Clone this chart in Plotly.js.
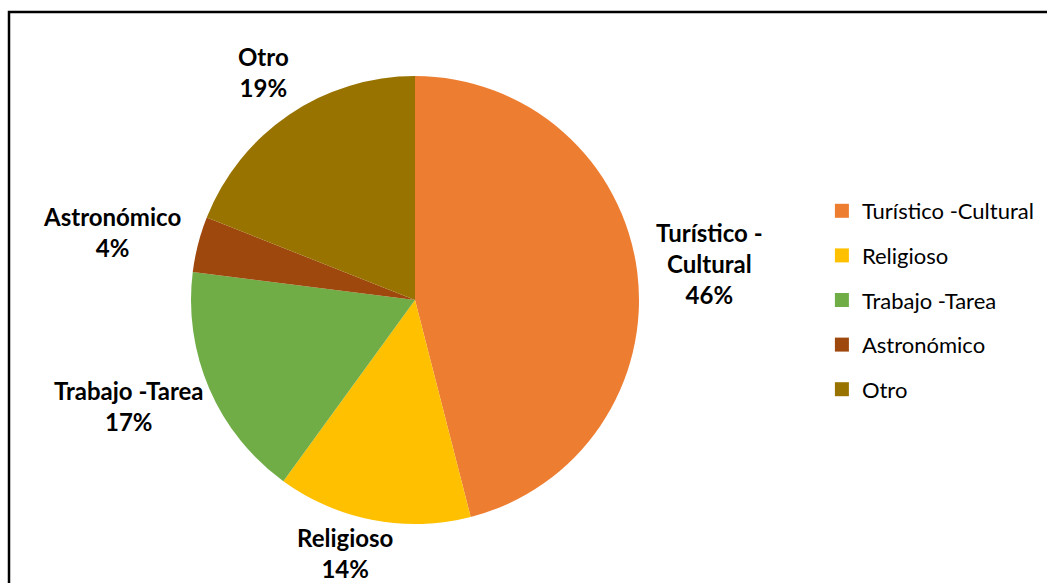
<!DOCTYPE html>
<html>
<head>
<meta charset="utf-8">
<script src="https://cdn.plot.ly/plotly-3.0.1.min.js"></script>
<style>html,body{margin:0;padding:0;background:#fff;overflow:hidden}#chart{width:1047px;height:583px}</style>
</head>
<body>
<div id="chart"></div>
<script>
// ---- data ----
const categories = ['Turístico -Cultural', 'Religioso', 'Trabajo -Tarea', 'Astronómico', 'Otro'];
const sliceLabels = ['Turístico -<br>Cultural', 'Religioso', 'Trabajo -Tarea', 'Astronómico', 'Otro'];
const values = [46, 14, 17, 4, 19];
const sliceColors = ['#ED7D31', '#FFC000', '#70AD47', '#9E480E', '#997300'];

// ---- layout geometry ----
const W = 1047, H = 583;
const cx = 415, cy = 300, R = 224;
const labelFont = 'Lato';
const labelSize = 24;

const total = values.reduce((a, b) => a + b, 0);

const ctx = document.createElement('canvas').getContext('2d');
ctx.font = 'bold ' + labelSize + 'px ' + labelFont;

const annotations = [];
let cum = 0;
values.forEach((v, i) => {
  const pct = Math.round(v / total * 100);
  const text = sliceLabels[i] + '<br>' + pct + '%';
  const lines = text.split('<br>');
  const w = Math.max(...lines.map(l => ctx.measureText(l).width));
  const h = lines.length * labelSize * 1.3;
  const theta = 2 * Math.PI * (cum + v / 2) / total;
  cum += v;
  const s = Math.sin(theta), c = Math.cos(theta);
  const gap = 20 - 18 * Math.max(0, -c);
  const px = cx + (R + gap) * s, py = cy - (R + gap) * c;
  const lx = px + s * w * (c < -0.5 ? 1.5 : 0.5), ly = py - c * h / 2;
  annotations.push({
    xref: 'paper', yref: 'paper', x: lx / W, y: 1 - ly / H,
    xanchor: 'center', yanchor: 'middle', showarrow: false, align: 'center',
    text: '<b>' + text + '</b>',
    font: {family: labelFont, size: labelSize, color: '#000'}
  });
});

const traces = [{
  type: 'pie',
  labels: categories,
  values: values,
  sort: false,
  direction: 'clockwise',
  rotation: 0,
  textinfo: 'none',
  hoverinfo: 'label+percent',
  marker: {colors: sliceColors, line: {width: 0}},
  showlegend: false,
  domain: {x: [(cx - R) / W, (cx + R) / W], y: [1 - (cy + R) / H, 1 - (cy - R) / H]}
}];

categories.forEach((name, i) => {
  traces.push({
    type: 'scatter', mode: 'markers', x: [null], y: [null],
    name: name, legendgroup: name, showlegend: true, hoverinfo: 'skip',
    marker: {symbol: 'square', size: 14, color: sliceColors[i]}
  });
});

const layout = {
  width: W, height: H,
  margin: {l: 0, r: 0, t: 0, b: 0},
  paper_bgcolor: '#fff', plot_bgcolor: '#fff',
  xaxis: {visible: false}, yaxis: {visible: false},
  showlegend: true,
  legend: {
    x: 0.785, y: 1 - 190 / H, xanchor: 'left', yanchor: 'top',
    font: {family: labelFont, size: 22, color: '#000'},
    tracegroupgap: 13, traceorder: 'grouped', bgcolor: 'rgba(0,0,0,0)'
  },
  annotations: annotations,
  shapes: [{
    type: 'rect', xref: 'paper', yref: 'paper',
    x0: 9 / W, x1: 1.05, y0: -0.05, y1: 1 - 12 / H,
    line: {color: '#000', width: 2.5}, fillcolor: 'rgba(0,0,0,0)'
  }]
};

Plotly.newPlot('chart', traces, layout, {displayModeBar: false, staticPlot: true});
</script>
</body>
</html>
